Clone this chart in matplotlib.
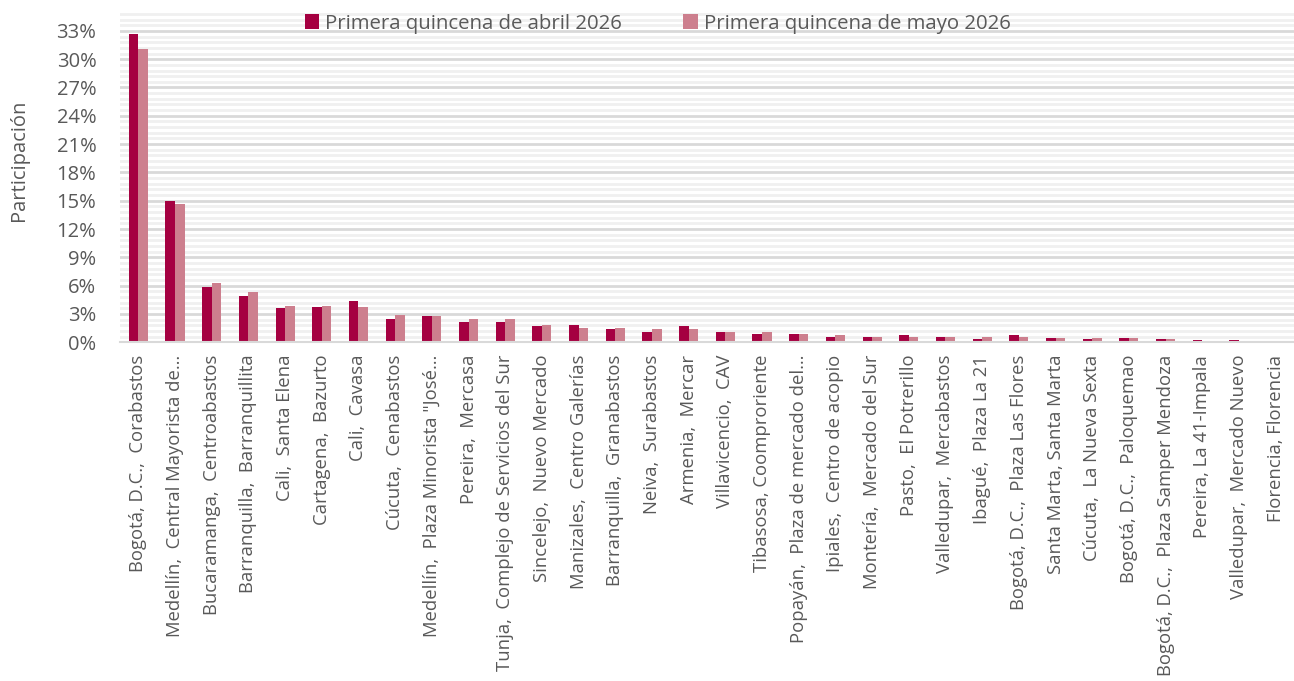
import matplotlib
matplotlib.use("Agg")
import matplotlib.pyplot as plt
import numpy as np
from matplotlib.ticker import MultipleLocator, FuncFormatter

categories = [
    "Bogotá, D.C.,  Corabastos",
    "Medellín,  Central Mayorista de…",
    "Bucaramanga,  Centroabastos",
    "Barranquilla,  Barranquillita",
    "Cali,  Santa Elena",
    "Cartagena,  Bazurto",
    "Cali,  Cavasa",
    "Cúcuta,  Cenabastos",
    "Medellín,  Plaza Minorista \"José…",
    "Pereira,  Mercasa",
    "Tunja,  Complejo de Servicios del Sur",
    "Sincelejo,  Nuevo Mercado",
    "Manizales,  Centro Galerías",
    "Barranquilla,  Granabastos",
    "Neiva,  Surabastos",
    "Armenia,  Mercar",
    "Villavicencio,  CAV",
    "Tibasosa, Coomproriente",
    "Popayán,  Plaza de mercado del…",
    "Ipiales,  Centro de acopio",
    "Montería,  Mercado del Sur",
    "Pasto,  El Potrerillo",
    "Valledupar,  Mercabastos",
    "Ibagué,  Plaza La 21",
    "Bogotá, D.C.,  Plaza Las Flores",
    "Santa Marta, Santa Marta",
    "Cúcuta,  La Nueva Sexta",
    "Bogotá, D.C.,  Paloquemao",
    "Bogotá, D.C.,  Plaza Samper Mendoza",
    "Pereira, La 41-Impala",
    "Valledupar,  Mercado Nuevo",
    "Florencia, Florencia",
]

abril_2026 = [32.7, 15.0, 5.9, 4.9, 3.6, 3.7, 4.4, 2.5, 2.75, 2.1, 2.2, 1.7, 1.8, 1.4,
              1.1, 1.7, 1.1, 0.88, 0.88, 0.6, 0.6, 0.74, 0.6, 0.35, 0.74, 0.46, 0.32,
              0.46, 0.32, 0.2, 0.2, 0.0]
mayo_2026 = [31.1, 14.7, 6.3, 5.3, 3.85, 3.85, 3.7, 2.9, 2.75, 2.45, 2.45, 1.8, 1.55, 1.55,
             1.4, 1.4, 1.1, 1.1, 0.88, 0.74, 0.6, 0.6, 0.6, 0.6, 0.6, 0.46, 0.46,
             0.46, 0.3, 0.18, 0.15, 0.0]

series_names = ["Primera quincena de abril 2026", "Primera quincena de mayo 2026"]
colors = ["#A50041", "#CD7F8E"]
text_color = "#595959"

plt.rcParams['font.family'] = ['Open Sans', 'DejaVu Sans']

fig = plt.figure(figsize=(12.94, 6.81), dpi=100)
ax = fig.add_axes([120/1294, 1 - 342.3/681, 1 - 120/1294, (342.3 - 12)/681])

x = np.arange(len(categories))
w = 0.26
ax.bar(x - w/2, abril_2026, width=w, color=colors[0], label=series_names[0], zorder=3)
ax.bar(x + w/2, mayo_2026, width=w, color=colors[1], label=series_names[1], zorder=3)

ax.set_xlim(-0.5, len(categories) - 0.5)
ax.set_ylim(0, 35)
ax.yaxis.set_major_locator(MultipleLocator(3))
ax.yaxis.set_minor_locator(MultipleLocator(0.6))
ax.yaxis.set_major_formatter(FuncFormatter(lambda v, p: f"{v:.0f}%" if v <= 33.01 else ""))
ax.grid(axis='y', which='major', color='#d9d9d9', linewidth=2.0, zorder=0)
ax.grid(axis='y', which='minor', color='#f0f0f0', linewidth=2.0, zorder=0)
ax.grid(axis='x', visible=False)

for s in ['top', 'right', 'left']:
    ax.spines[s].set_visible(False)
ax.spines['bottom'].set_color('#d9d9d9')
ax.spines['bottom'].set_linewidth(1.5)
ax.spines['bottom'].set_zorder(4)

ax.set_xticks(x)
ax.set_xticklabels(categories, rotation=90, fontsize=13.3, color=text_color)
ax.tick_params(axis='x', length=0, pad=9)
ax.tick_params(axis='y', which='both', length=0, labelsize=14.5, labelcolor=text_color, pad=17)

ax.set_ylabel("Participación", fontsize=14.5, color=text_color)
ax.yaxis.set_label_coords(-0.0775, 0.55)

leg = ax.legend(loc='center', bbox_to_anchor=(0.458, 0.965), ncol=2, frameon=False,
                fontsize=14.7, handlelength=0.7, handleheight=0.7, handletextpad=0.3,
                columnspacing=3.0, borderaxespad=0)
for t in leg.get_texts():
    t.set_color(text_color)

fig.savefig("out.png", dpi=100)
